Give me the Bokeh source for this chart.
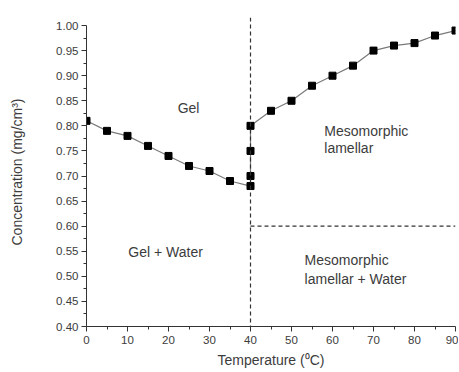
from bokeh.plotting import figure
from bokeh.models import FixedTicker, NumeralTickFormatter, Span, ColumnDataSource
from bokeh.core.properties import value
from bokeh.embed import file_html
from bokeh.resources import INLINE

# Data
temperature = [0, 5, 10, 15, 20, 25, 30, 35, 40, 40, 40, 40,
               45, 50, 55, 60, 65, 70, 75, 80, 85, 90]
concentration = [0.81, 0.79, 0.78, 0.76, 0.74, 0.72, 0.71, 0.69, 0.68, 0.70, 0.75, 0.80,
                 0.83, 0.85, 0.88, 0.90, 0.92, 0.95, 0.96, 0.965, 0.98, 0.99]

boundary_temp = 40
boundary_conc = 0.60
boundary_conc_xmax = 90

x_ticks = [0, 10, 20, 30, 40, 50, 60, 70, 80, 90]
y_ticks = [0.40, 0.45, 0.50, 0.55, 0.60, 0.65, 0.70, 0.75, 0.80, 0.85, 0.90, 0.95, 1.00]

center_labels = ["Gel", "Gel + Water"]
center_x = [24.9, 19.3]
center_y = [0.835, 0.548]

left_labels = ["Mesomorphic", "lamellar", "Mesomorphic", "lamellar + Water"]
left_x = [58.0, 58.0, 53.2, 53.2]
left_y = [0.790, 0.755, 0.532, 0.494]

FONT = "Liberation Sans"
TXT = "#3c3c3c"

p = figure(width=458, height=371, output_backend="svg", toolbar_location=None,
           x_range=(0, 90), y_range=(0.40, 1.016),
           min_border_left=86, min_border_right=3, min_border_top=17, min_border_bottom=45)
p.outline_line_color = None
p.grid.visible = False
p.background_fill_color = "white"
p.border_fill_color = "white"

for ax in (p.xaxis[0], p.yaxis[0]):
    ax.axis_line_color = "#333333"
    ax.major_tick_line_color = "#333333"
    ax.minor_tick_line_color = "#333333"
    ax.major_tick_out = 5
    ax.major_tick_in = 0
    ax.minor_tick_out = 3
    ax.minor_tick_in = 0
    ax.major_label_text_font = FONT
    ax.major_label_text_font_size = "11.5px"
    ax.major_label_text_color = TXT
    ax.axis_label_text_font = FONT
    ax.axis_label_text_font_size = "14px"
    ax.axis_label_text_font_style = "normal"
    ax.axis_label_text_color = TXT

p.xaxis.ticker = FixedTicker(ticks=x_ticks, minor_ticks=[t + 5 for t in x_ticks[:-1]])
p.yaxis.ticker = FixedTicker(ticks=y_ticks, minor_ticks=[round(t + 0.025, 3) for t in y_ticks[:-1]])
p.yaxis.formatter = NumeralTickFormatter(format="0.00")
p.yaxis.bounds = (0.40, 1.00)
p.xaxis.major_label_standoff = 4
p.yaxis.major_label_standoff = 3
p.xaxis.axis_label = "Temperature (\u2070C)"
p.yaxis.axis_label = "Concentration (mg/cm\u00b3)"
p.xaxis.axis_label_standoff = 5
p.yaxis.axis_label_standoff = 28

# boundaries
p.add_layout(Span(location=boundary_temp, dimension="height", line_color="#333333",
                  line_dash="4 3", line_width=1.2))
p.segment(x0=[boundary_temp], y0=[boundary_conc], x1=[boundary_conc_xmax], y1=[boundary_conc],
          line_color="#333333", line_dash="4 3", line_width=1.2)

src = ColumnDataSource(dict(x=temperature, y=concentration))
p.line("x", "y", source=src, line_color="#7a7a7a", line_width=1.2)
p.scatter("x", "y", source=src, marker="square", size=7, fill_color="black", line_color="black")

p.text(x=center_x, y=center_y, text=center_labels, text_font=value(FONT),
       text_font_size="14px", text_color=TXT, text_align="center", text_baseline="middle")
p.text(x=left_x, y=left_y, text=left_labels, text_font=value(FONT),
       text_font_size="14px", text_color=TXT, text_align="left", text_baseline="middle")

open("out.html", "w").write(file_html(p, INLINE))
